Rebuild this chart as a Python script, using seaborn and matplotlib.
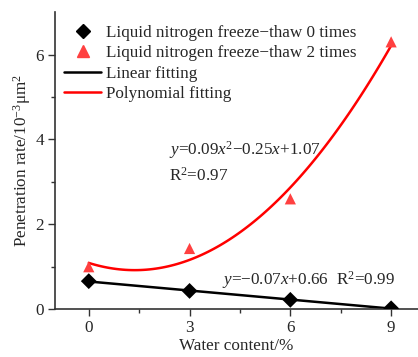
import numpy as np
import pandas as pd
import seaborn as sns
import matplotlib.pyplot as plt
from matplotlib.lines import Line2D

# values
water_content = [0, 3, 6, 9]
rate_0_times = [0.66, 0.43, 0.22, 0.02]
rate_2_times = [1.00, 1.43, 2.60, 6.30]

df = pd.DataFrame({
    'water': water_content * 2,
    'rate': rate_0_times + rate_2_times,
    'group': ['Liquid nitrogen freeze\u2212thaw 0 times'] * 4 + ['Liquid nitrogen freeze\u2212thaw 2 times'] * 4,
})

sns.set_style('ticks')
plt.rcParams['font.family'] = ['Liberation Serif', 'DejaVu Serif']
plt.rcParams['mathtext.fontset'] = 'custom'
plt.rcParams['mathtext.rm'] = 'Liberation Serif'
plt.rcParams['mathtext.it'] = 'Liberation Serif:italic'
plt.rcParams['axes.unicode_minus'] = True

fs = 12.3
fig = plt.figure(figsize=(4.18, 3.57), dpi=100)
ax = fig.add_axes([0.132, 0.134, 0.868, 0.832])

# fitted lines
sns.regplot(data=df[df['group'].str.contains('0 times')], x='water', y='rate', order=1,
            ci=None, scatter=False, truncate=True, ax=ax,
            line_kws={'color': 'black', 'lw': 1.8})
sns.regplot(data=df[df['group'].str.contains('2 times')], x='water', y='rate', order=2,
            ci=None, scatter=False, truncate=True, ax=ax,
            line_kws={'color': 'red', 'lw': 1.8})

# measured points
sns.scatterplot(data=df, x='water', y='rate', hue='group', style='group',
                palette=['black', '#FF4040'], markers=['D', '^'], s=65,
                edgecolor='none', ax=ax, legend=False, zorder=3)

ax.set_xlim(-1, 9.8)
ax.set_ylim(0, 7)
ax.set_xticks([0, 3, 6, 9])
ax.set_xticks([1.5, 4.5, 7.5], minor=True)
ax.set_yticks([0, 2, 4, 6])
ax.set_yticks([1, 3, 5], minor=True)
ax.tick_params(axis='both', which='major', direction='out', length=5, width=1,
               labelsize=fs, color='#333333', pad=3)
ax.tick_params(axis='both', which='minor', direction='out', length=3, width=1,
               color='#333333')
sns.despine(ax=ax)
for s in ['left', 'bottom']:
    ax.spines[s].set_linewidth(1.2)
    ax.spines[s].set_color('#333333')

ax.set_xlabel('Water content/%', fontsize=fs, labelpad=1)
ax.set_ylabel('Penetration rate/10$^{-3}$\u03bcm$^{2}$', fontsize=fs, labelpad=2)

# fit equations
ax.text(2.4, 3.76, r'$\it{y}$=0.09$\it{x}^{2}$$-$0.25$\it{x}$+1.07', fontsize=fs, va='center')
ax.text(2.4, 3.14, r'R$^{2}$=0.97', fontsize=fs, va='center')
ax.text(3.96, 0.69, r'$\it{y}$=$-$0.07$\it{x}$+0.66  R$^{2}$=0.99', fontsize=fs, va='center')

handles = [
    Line2D([], [], ls='none', marker='D', color='black', markersize=7.5),
    Line2D([], [], ls='none', marker='^', color='#FF4040', markersize=8.5),
    Line2D([], [], color='black', lw=1.8),
    Line2D([], [], color='red', lw=1.8),
]
labels = ['Liquid nitrogen freeze\u2212thaw 0 times', 'Liquid nitrogen freeze\u2212thaw 2 times',
          'Linear fitting', 'Polynomial fitting']
ax.legend(handles, labels, loc='upper left', bbox_to_anchor=(0.0, 0.985), frameon=False,
          fontsize=fs, handlelength=2.2, handletextpad=0.3, labelspacing=0.25,
          borderaxespad=0.0, borderpad=0.5)

fig.savefig('out.png', dpi=100)
